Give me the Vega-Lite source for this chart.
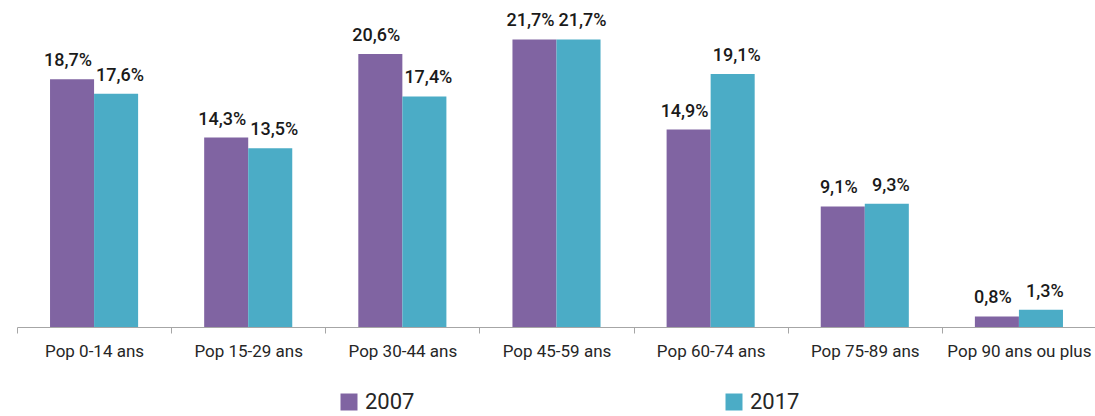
{
  "$schema": "https://vega.github.io/schema/vega-lite/v6.json",
  "width": 1079,
  "height": 318,
  "padding": {"left": 16, "top": 9, "right": 0, "bottom": 0},
  "background": "white",
  "config": {
    "view": {"stroke": null},
    "font": "Roboto",
    "locale": {"number": {"decimal": ",", "thousands": " ", "grouping": [3], "currency": ["", " €"]}}
  },
  "data": {
    "values": [
      {"categorie": "Pop 0-14 ans", "annee": "2007", "part": 0.187},
      {"categorie": "Pop 0-14 ans", "annee": "2017", "part": 0.176},
      {"categorie": "Pop 15-29 ans", "annee": "2007", "part": 0.143},
      {"categorie": "Pop 15-29 ans", "annee": "2017", "part": 0.135},
      {"categorie": "Pop 30-44 ans", "annee": "2007", "part": 0.206},
      {"categorie": "Pop 30-44 ans", "annee": "2017", "part": 0.174},
      {"categorie": "Pop 45-59 ans", "annee": "2007", "part": 0.217},
      {"categorie": "Pop 45-59 ans", "annee": "2017", "part": 0.217},
      {"categorie": "Pop 60-74 ans", "annee": "2007", "part": 0.149},
      {"categorie": "Pop 60-74 ans", "annee": "2017", "part": 0.191},
      {"categorie": "Pop 75-89 ans", "annee": "2007", "part": 0.091},
      {"categorie": "Pop 75-89 ans", "annee": "2017", "part": 0.093},
      {"categorie": "Pop 90 ans ou plus", "annee": "2007", "part": 0.008},
      {"categorie": "Pop 90 ans ou plus", "annee": "2017", "part": 0.013}
    ]
  },
  "encoding": {
    "x": {
      "field": "categorie",
      "type": "nominal",
      "sort": null,
      "scale": {"paddingInner": 0, "paddingOuter": 0},
      "axis": {
        "title": null,
        "labelAngle": 0,
        "tickBand": "extent",
        "domainColor": "#A6A6A6",
        "tickColor": "#A6A6A6",
        "tickSize": 6,
        "labelFontSize": 17,
        "labelColor": "#262626",
        "labelPadding": 10,
        "labelFont": "Roboto"
      }
    },
    "xOffset": {
      "field": "annee",
      "type": "nominal",
      "scale": {"domain": ["2007", "2017"], "paddingInner": 0, "paddingOuter": 0.75}
    },
    "y": {
      "field": "part",
      "type": "quantitative",
      "scale": {"domain": [0, 0.24], "nice": false},
      "axis": null
    }
  },
  "layer": [
    {
      "mark": {"type": "bar"},
      "encoding": {
        "color": {
          "field": "annee",
          "type": "nominal",
          "scale": {"domain": ["2007", "2017"], "range": ["#8064A2", "#4BACC6"]},
          "legend": {
            "title": null,
            "orient": "none",
            "direction": "horizontal",
            "legendX": 321,
            "legendY": 382,
            "symbolType": "square",
            "symbolSize": 289,
            "symbolStrokeWidth": 0,
            "labelFontSize": 22,
            "labelColor": "#262626",
            "labelOffset": 5,
            "columnPadding": 308
          }
        }
      }
    },
    {
      "transform": [{"filter": "datum.annee === '2007'"}],
      "mark": {"type": "text", "baseline": "alphabetic", "dy": -13, "dx": -4, "fontSize": 18, "fontWeight": 500, "color": "#1a1a1a"},
      "encoding": {
        "text": {"field": "part", "type": "quantitative", "format": ".1%"}
      }
    },
    {
      "transform": [{"filter": "datum.annee === '2017'"}],
      "mark": {"type": "text", "baseline": "alphabetic", "dy": -13, "dx": 4, "fontSize": 18, "fontWeight": 500, "color": "#1a1a1a"},
      "encoding": {
        "text": {"field": "part", "type": "quantitative", "format": ".1%"}
      }
    }
  ]
}
